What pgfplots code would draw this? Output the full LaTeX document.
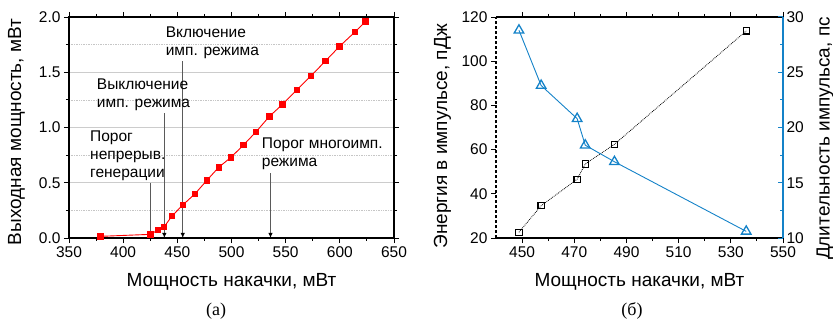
\documentclass[border=0pt]{standalone}
\usepackage{fontspec}
\setmainfont{Liberation Sans}
\newfontfamily\seriffont{Liberation Serif}
\usepackage{pgfplots}
\pgfplotsset{compat=1.18}
\usetikzlibrary{arrows.meta}
\definecolor{plred}{RGB}{255,0,0}
\definecolor{plblue}{RGB}{20,130,200}
\definecolor{arrgray}{RGB}{90,90,90}

\pgfplotstableread{
x y
379.2 0.015
425.1 0.033
432.2 0.072
437.7 0.099
445.1 0.200
455.2 0.300
466.3 0.400
477.1 0.520
488.2 0.640
499.5 0.730
510.9 0.840
522.6 0.960
534.9 1.100
547.2 1.210
560.2 1.340
573.1 1.465
586.6 1.600
599.8 1.735
614.0 1.865
623.8 1.960
}\outputdata

\pgfplotstableread{
x e
448.8 22.6
457.3 34.6
471.1 46.6
474.2 53.5
485.4 62.4
535.9 113.7
}\energydata

\pgfplotstableread{
x d
448.8 28.8
457.3 23.8
471.1 20.8
474.2 18.4
485.4 16.9
535.9 10.6
}\durationdata

\pgfplotsset{
  mystyle/.style={
    scale only axis,
    anchor=south west,
    height=221bp,
    tick label style={font=\fontsize{15.5bp}{18bp}\selectfont},
    label style={font=\fontsize{19bp}{22bp}\selectfont},
    /pgf/number format/assume math mode=true,
    axis line style={line width=1.1bp},
    every tick/.style={line width=0.9bp, black},
    major tick length=5bp,
    minor tick length=3bp,
  }
}

\begin{document}
\begin{tikzpicture}
\path[use as bounding box] (0,0) rectangle (833bp,321bp);

% ---------------- (a) ----------------
\begin{axis}[mystyle,
  at={(69bp,83bp)}, width=325bp,
  xmin=350, xmax=650, ymin=0, ymax=2,
  xtick={350,400,...,650}, ytick={0,0.5,...,2},
  minor x tick num=1, minor y tick num=1,
  ymajorgrids, yminorgrids,
  major grid style={gray!40, line width=0.7bp},
  minor grid style={gray!45, line width=0.7bp, densely dotted},
  tick align=outside,
  yticklabel style={/pgf/number format/fixed, /pgf/number format/fixed zerofill, /pgf/number format/precision=1},
  xlabel={Мощность накачки, мВт},
  xlabel style={at={(axis description cs:0.5,-0.199)}, anchor=center},
  ylabel={Выходная мощность, мВт},
  ylabel style={at={(axis description cs:-0.1615,0.48)}, anchor=center},
  clip=false,
]
\addplot[plred, line width=0.9bp, mark=square*, mark size=2.7bp, mark options={solid, fill=plred}] table[x=x,y=y] {\outputdata};

\draw[arrgray, line width=1.4bp, -{Latex[length=5bp,width=4.5bp,color=black]}] (axis cs:425,0.50) -- (axis cs:425,0);
\draw[arrgray, line width=1.4bp, -{Latex[length=5bp,width=4.5bp,color=black]}] (axis cs:438,1.13) -- (axis cs:438,0);
\draw[arrgray, line width=1.4bp, -{Latex[length=5bp,width=4.5bp,color=black]}] (axis cs:455,1.60) -- (axis cs:455,0);
\draw[arrgray, line width=1.4bp, -{Latex[length=5bp,width=4.5bp,color=black]}] (axis cs:536,0.585) -- (axis cs:536,0);

\node[anchor=north west, inner sep=0pt, align=left, font=\fontsize{15.5bp}{17.7bp}\selectfont] at (axis cs:369.4,0.97) {Порог\\непрерыв.\\генерации};
\node[anchor=north west, inner sep=0pt, align=left, font=\fontsize{15.5bp}{17.7bp}\selectfont] at (axis cs:375.6,1.44) {Выключение\\имп. режима};
\node[anchor=north west, inner sep=0pt, align=left, font=\fontsize{15.5bp}{17.7bp}\selectfont] at (axis cs:439.2,1.91) {Включение\\имп. режима};
\node[anchor=north west, inner sep=0pt, align=left, font=\fontsize{15.5bp}{17.7bp}\selectfont] at (axis cs:527.9,0.905) {Порог многоимп.\\режима};
\end{axis}

% ---------------- (b) ----------------
\begin{axis}[mystyle,
  at={(496bp,83bp)}, width=287bp,
  xmin=440, xmax=550, ymin=20, ymax=120,
  xtick={450,470,...,550}, ytick={20,40,...,120},
  minor x tick num=1,
  tick align=outside,
  axis x line*=box, axis y line*=left,
  x axis line style={-},
  y axis line style={-, densely dashed},
  xlabel={Мощность накачки, мВт},
  xlabel style={at={(axis description cs:0.5,-0.199)}, anchor=center},
  ylabel={Энергия в импульсе, пДж},
  ylabel style={at={(axis description cs:-0.1864,0.46)}, anchor=center},
]
\addplot[black, line width=0.8bp, densely dotted, mark=square, mark size=3.1bp, mark options={solid, line width=1.1bp}] table[x=x,y=e] {\energydata};
\end{axis}

\begin{axis}[mystyle,
  at={(496bp,83bp)}, width=287bp,
  xmin=440, xmax=550, ymin=10, ymax=30,
  ytick={10,15,...,30},
  minor y tick num=1,
  axis x line=none, axis y line*=right,
  y axis line style={-, plblue, line width=1.3bp},
  every tick/.style={line width=1bp, plblue},
  tick align=inside,
  ylabel={Длительность импульса, пс},
  ylabel style={at={(axis description cs:1.1463,0.45)}, anchor=center},
]
\addplot[plblue, line width=0.9bp, mark=triangle, mark size=5.5bp, mark options={solid, line width=1.3bp}] table[x=x,y=d] {\durationdata};
\end{axis}

\node[font=\seriffont\fontsize{18bp}{20bp}\selectfont] at (216bp,10bp) {(a)};
\node[font=\seriffont\fontsize{18bp}{20bp}\selectfont] at (632bp,10bp) {(б)};
\end{tikzpicture}
\end{document}
